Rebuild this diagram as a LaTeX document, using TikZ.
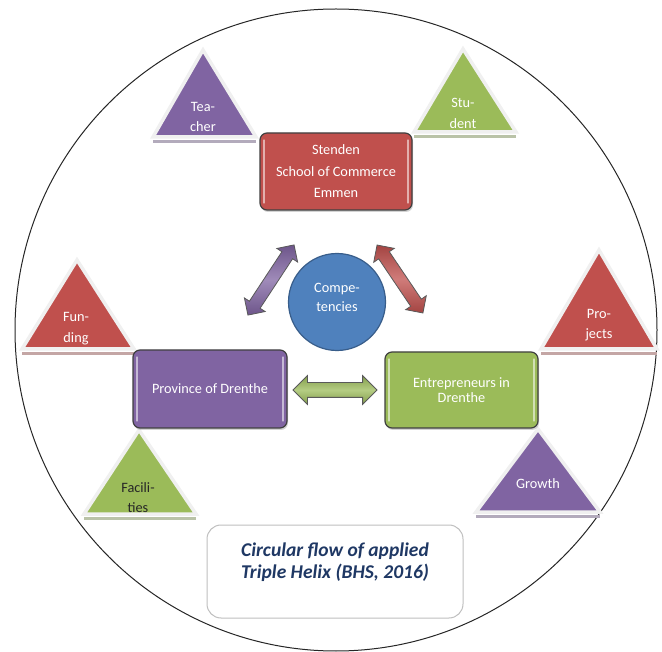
\documentclass[tikz,border=0pt]{standalone}
\usepackage{fontspec}
\setmainfont{Carlito}
\usetikzlibrary{shapes.arrows,shadows}
\definecolor{cred}{HTML}{C0504D}
\definecolor{cpurple}{HTML}{8064A2}
\definecolor{cgreen}{HTML}{9BBB59}
\definecolor{cblue}{HTML}{4F81BD}
\definecolor{cblueline}{HTML}{385D8A}
\definecolor{ctitle}{HTML}{1F3864}
\newcommand\mytri[7]{%
  \coordinate (#1-a) at (#3,#4);
  \coordinate (#1-l) at (#5,#7);
  \coordinate (#1-r) at (#6,#7);
  \draw[line width=2.2pt, #2!45!gray!60!white] ([yshift=-4.5pt]#1-l) -- ([yshift=-4.5pt]#1-r);
  \filldraw[fill=#2, draw=black!6, line width=3.5pt, line join=miter] (#1-a) -- (#1-l) -- (#1-r) -- cycle;
}
\tikzset{
  boxst/.style={rounded corners=7pt, draw=black!75, line width=1.2pt, fill=#1,
    text=white, align=center, inner sep=0pt,
    drop shadow={shadow xshift=1pt, shadow yshift=-2pt, opacity=0.35}},
  hilite/.style={white, opacity=0.55, line width=2.5pt, line cap=round},
  arr/.style={double arrow, draw=black!65, line width=0.8pt, inner xsep=0pt,
    minimum width=0pt, top color=#1!85!black, bottom color=#1!85!black, middle color=#1!75!white},
  tritext/.style={text=white, align=center, font=\fontsize{14.3}{20.5}\selectfont},
}
\begin{document}
\begin{tikzpicture}[x=1pt,y=-1pt]
\useasboundingbox (0,0) rectangle (662,652);
% outer circle
\draw[black!85, line width=1pt] (336,330) circle[radius=321];

% triangles
\mytri{te}{cpurple}{203}{50}{153}{256}{137}
\mytri{st}{cgreen}{463}{49}{414}{516}{132}
\mytri{fu}{cred}{77}{260}{22}{134}{349}
\mytri{fa}{cgreen}{139}{430}{84}{196}{514}
\mytri{pr}{cred}{599}{250}{541}{657}{349}
\mytri{gr}{cpurple}{538}{429}{476}{600}{512}

\node[tritext] (teT) at (203,117) {Tea-\\cher};
\node[tritext] (stT) at (463,113.5) {Stu-\\dent};
\node[tritext] (fuT) at (76,328.5) {Fun-\\ding};
\node[tritext] (prT) at (599,325) {Pro-\\jects};
\node[tritext, text=black!85] (faT) at (138,497.5) {Facili-\\ties};
\node[tritext] (grT) at (538,484) {Growth};

% boxes
\node[boxst=cred, minimum width=152pt, minimum height=77pt,
  font=\fontsize{14.3}{21.5}\selectfont] (S) at (336,171.5)
  {Stenden\\School of Commerce\\Emmen};
\node[boxst=cpurple, minimum width=154pt, minimum height=78pt,
  font=\fontsize{14.3}{16}\selectfont] (P) at (210,389) {Province of Drenthe};
\node[boxst=cgreen, minimum width=153pt, minimum height=76pt,
  font=\fontsize{14.3}{15.5}\selectfont] (E) at (461.5,390) {Entrepreneurs in\\Drenthe};
\foreach \b in {S,P,E}{
  \draw[hilite] ([xshift=4.5pt,yshift=-8pt]\b.north west) -- ([xshift=4.5pt,yshift=8pt]\b.south west);
  \draw[hilite] ([xshift=-4.5pt,yshift=-8pt]\b.north east) -- ([xshift=-4.5pt,yshift=8pt]\b.south east);
}

% competencies
\node[circle, fill=cblue, draw=cblueline, line width=1.2pt, minimum size=97pt] (C) at (337,302) {};
\node[text=white, align=center, font=\fontsize{14.3}{18.5}\selectfont] (CT) at (337,297.5) {Compe-\\tencies};

% arrows
\node[arr=cpurple, inner ysep=6pt, double arrow head extend=6pt,
  minimum height=84pt, rotate=56.7] (A1) at (271,280) {};
\node[arr=cred, inner ysep=6pt, double arrow head extend=6pt,
  minimum height=82pt, rotate=-56] (A2) at (400,279) {};
\node[arr=cgreen, inner ysep=7pt, double arrow head extend=7pt,
  minimum height=84pt] (A3) at (335,390) {};

% caption
\node[draw=black!25, line width=1pt, rounded corners=14pt, fill=white,
  minimum width=256pt, minimum height=93pt] (cap) at (335,571.5) {};
\node[text=ctitle, align=center, font=\bfseries\itshape\fontsize{19.5}{22.5}\selectfont]
  (capT) at (335,562) {Circular flow of applied\\Triple Helix (BHS, 2016)};
\end{tikzpicture}
\end{document}
